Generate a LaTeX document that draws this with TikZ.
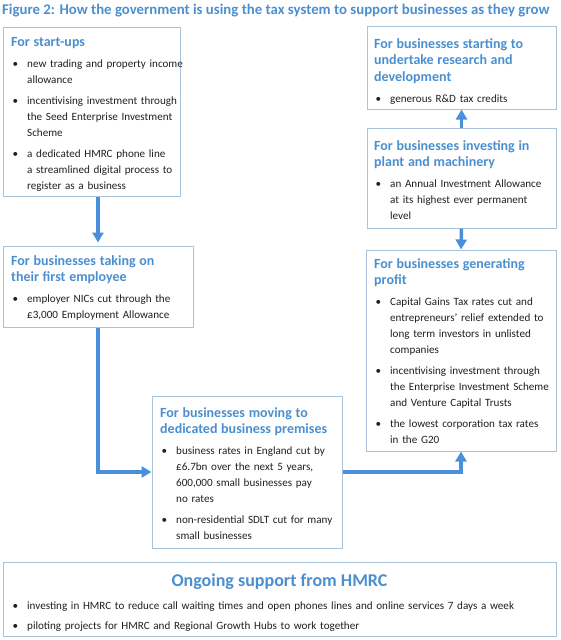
\documentclass[tikz,border=0pt]{standalone}
\usepackage{fontspec}
\setmainfont{Carlito}
\usetikzlibrary{arrows.meta}
\definecolor{hblue}{HTML}{4B8FD0}
\definecolor{ablue}{HTML}{4A8FDB}
\definecolor{bline}{HTML}{A9C3DB}
\definecolor{txt}{HTML}{231F20}
\newcommand{\hd}[1]{{\fontsize{14}{16.5}\selectfont\bfseries\color{hblue}#1\par}}
\newcommand{\bi}[1]{\par{\let\\\newline\hangindent=16pt\hangafter=1\noindent\makebox[16pt][l]{\hspace{1.5pt}\textbullet}#1\par}}
\tikzset{
  box/.style={draw=bline, line width=1pt, fill=white, inner sep=0pt, minimum width=#1},
  content/.style={anchor=north west, inner sep=0pt, text width=#1, text=txt,
    font=\fontsize{11.1}{16}\selectfont, execute at begin node={\raggedright\setlength{\parskip}{5pt}}},
  conn/.style={draw=ablue, line width=3.5pt, -{Triangle[width=11pt,length=10pt]}},
}
\begin{document}
\begin{tikzpicture}[x=1pt,y=-1pt]
\useasboundingbox (0,0) rectangle (560,640);
% title
\node[anchor=west, inner sep=0pt, font=\fontsize{14.8}{16}\selectfont\bfseries, text=hblue] (title) at (2,11)
  {Figure 2: How the government is using the tax system to support businesses as they grow};
% boxes
\node[box=177pt, minimum height=169pt] (b1) at (91.5,111.5) {};
\node[box=190pt, minimum height=81pt] (b2) at (98,286.5) {};
\node[box=190pt, minimum height=152pt] (b5) at (247,472) {};
\node[box=190pt, minimum height=201pt] (bp) at (461,350.5) {};
\node[box=189pt, minimum height=100pt] (bm) at (461.5,178) {};
\node[box=189pt, minimum height=83pt] (br) at (461.5,67.5) {};
\node[box=553pt, minimum height=74pt] (bh) at (279.5,599) {};
% contents
\node[content=172pt] (t1) at (11,37) {%
\hd{For start-ups}
\bi{new trading and property income\\allowance}
\bi{incentivising investment through\\the Seed Enterprise Investment\\Scheme}
\bi{a dedicated HMRC phone line\\a streamlined digital process to\\register as a business}};
\node[content=185pt] (t2) at (11,255) {%
\hd{For businesses taking on\\their first employee}
\bi{employer NICs cut through the\\£3,000 Employment Allowance}};
\node[content=185pt] (t5) at (160,407) {%
\hd{For businesses moving to\\dedicated business premises}
\bi{business rates in England cut by\\£6.7bn over the next 5 years,\\600,000 small businesses pay\\no rates}
\bi{non-residential SDLT cut for many\\small businesses}};
\node[content=185pt] (tp) at (374,258) {%
\hd{For businesses generating\\profit}
\bi{Capital Gains Tax rates cut and\\entrepreneurs’ relief extended to\\long term investors in unlisted\\companies}
\bi{incentivising investment through\\the Enterprise Investment Scheme\\and Venture Capital Trusts}
\bi{the lowest corporation tax rates\\in the G20}};
\node[content=185pt] (tm) at (374,140) {%
\hd{For businesses investing in\\plant and machinery}
\bi{an Annual Investment Allowance\\at its highest ever permanent\\level}};
\node[content=185pt] (tr) at (374,38) {%
\hd{For businesses starting to\\undertake research and\\development}
\bi{generous R\&D tax credits}};
\node[inner sep=0pt, font=\fontsize{18}{20}\selectfont\bfseries, text=hblue] (th) at (279.5,582) {Ongoing support from HMRC};
\node[content=540pt, execute at begin node={\setlength{\parskip}{4pt}}] (thb) at (11,589) {%
\bi{investing in HMRC to reduce call waiting times and open phones lines and online services 7 days a week}
\bi{piloting projects for HMRC and Regional Growth Hubs to work together}};
% connectors
\draw[conn] (b1.south -| b2.north) -- ([yshift=3pt]b2.north);
\draw[conn] (b2.south) |- (b5.west);
\draw[conn] (b5.east) -| (bp.south);
\draw[conn] (bm.south) -- (bp.north);
\draw[conn] (bm.north) -- (br.south);
\end{tikzpicture}
\end{document}
